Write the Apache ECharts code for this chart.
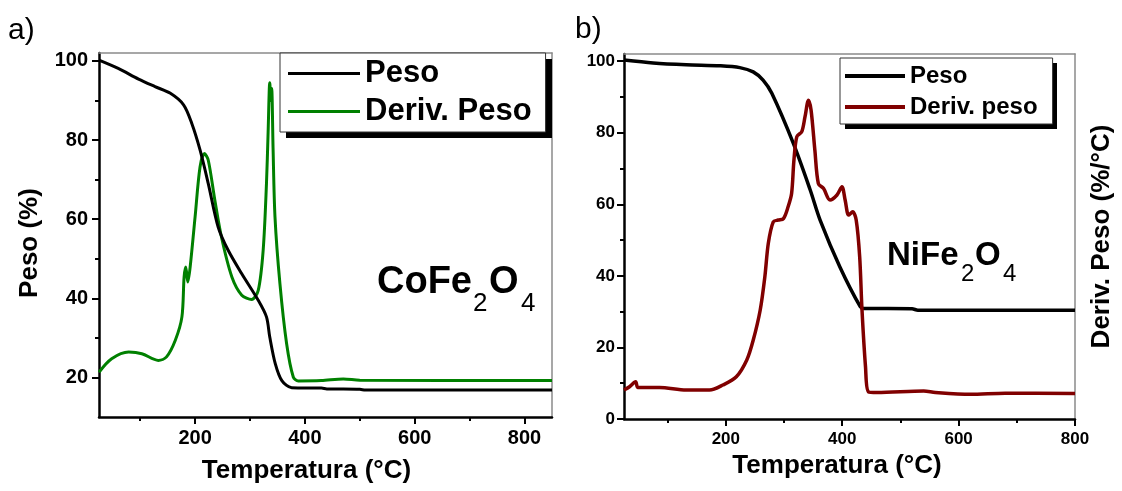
<!DOCTYPE html>
<html>
<head>
<meta charset="utf-8">
<script src="https://cdn.jsdelivr.net/npm/echarts@6/dist/echarts.min.js"></script>
<style>
html, body { margin: 0; padding: 0; background: #fff; }
#main { width: 1122px; height: 491px; }
</style>
</head>
<body>
<div id="main"></div>
<script>
// a) CoFe2O4
var tempPesoA  = [25, 60, 97, 127, 155, 179, 194, 209, 224, 242, 260, 285, 315, 330, 336, 346, 358, 376, 430, 440, 500, 510, 850];
var pesoA      = [100.2, 98.1, 95.4, 93.5, 91.8, 88.9, 84.2, 77.5, 69, 58, 52.2, 46.2, 39.5, 35.3, 30.2, 23.5, 19.2, 17.4, 17.3, 17.1, 17.0, 16.8, 16.8];
var tempDerivA = [25, 48, 79, 103, 133, 148, 164, 176, 180, 183, 186.7, 191, 200, 209, 217, 224, 236, 248, 267, 285, 303, 315, 324, 330, 333, 336, 338, 339.5, 342, 345.5, 354.5, 366.7, 378.8, 388, 430, 470, 500, 850];
var derivA     = [21.3, 24.7, 26.4, 26.0, 24.3, 25.2, 29.4, 35.3, 45.4, 47.9, 44.1, 47.9, 60.6, 73.2, 76.6, 74.9, 64.8, 55.5, 45.4, 40.8, 39.7, 42, 52.2, 69, 82, 94.5, 90, 93, 78, 60.6, 43.7, 28.5, 20.1, 19.1, 19.2, 19.6, 19.3, 19.2];

// b) NiFe2O4
var tempPesoB  = [25, 75, 132, 190, 224, 247, 264, 279, 316, 345, 362, 396, 431, 437, 520, 530, 800];
var pesoB      = [100.3, 99.5, 99.0, 98.7, 98.2, 97, 94.7, 91, 77, 64, 55.6, 42.5, 31.4, 30.9, 30.8, 30.4, 30.4];
var tempDerivB = [25, 34.5, 45, 49, 86, 132, 172, 195, 218, 236, 247, 259, 267, 273, 281.5, 290, 299, 307, 313, 317, 322, 330.5, 336, 342, 346.5, 353, 359, 368, 379, 391, 399.5, 405, 411, 418, 424, 430, 434, 440, 445, 460, 540, 560, 620, 680, 800];
var derivB     = [8.1, 9.0, 10.4, 8.8, 8.8, 8.1, 8.1, 9.5, 11.8, 16.5, 22, 30.4, 39.7, 49.1, 55.1, 55.6, 56, 59.3, 63, 72.3, 78.9, 80.3, 84.4, 89.1, 86.3, 75.1, 65.8, 64.4, 61.2, 62.6, 64.9, 61.2, 57, 57.9, 55.6, 45.3, 30.4, 14.6, 7.6, 7.4, 7.8, 7.4, 6.9, 7.2, 7.1];

// ticks
var majorX  = [200, 400, 600, 800];
var minorX  = [100, 300, 500, 700];
var majorYA = [20, 40, 60, 80, 100];
var minorYA = [30, 50, 70, 90];
var majorYB = [0, 20, 40, 60, 80, 100];
var minorYB = [10, 30, 50, 70, 90];

var FONT = '"Liberation Sans", Arial, sans-serif';
var myChart = echarts.init(document.getElementById('main'));

function pares(xs, ys) {
    return xs.map(function (x, i) { return [x, ys[i]]; });
}

// eje principal con marcas y etiquetas
function ejePrincipal(grid, pos, min, max, ticks, fs, margin, extra) {
    var eje = {
        gridIndex: grid, type: 'value', position: pos, min: min, max: max,
        axisLine: { onZero: false, lineStyle: { color: '#000', width: 2.5 } },
        axisTick: { customValues: ticks, length: 7, lineStyle: { color: '#000', width: 2 } },
        axisLabel: { customValues: ticks, fontSize: fs, fontWeight: 'bold', color: '#000', fontFamily: FONT, margin: margin },
        splitLine: { show: false }
    };
    for (var k in extra) eje[k] = extra[k];
    return eje;
}
// marcas menores
function ejeMenor(grid, pos, min, max, ticks) {
    return {
        gridIndex: grid, type: 'value', position: pos, min: min, max: max,
        axisLine: { show: false, onZero: false },
        axisTick: { customValues: ticks, length: 4, lineStyle: { color: '#000', width: 2 } },
        axisLabel: { show: false },
        splitLine: { show: false }
    };
}
// borde gris arriba / derecha
function ejeBorde(grid, pos, min, max, extra) {
    var eje = {
        gridIndex: grid, type: 'value', position: pos, min: min, max: max,
        axisLine: { onZero: false, lineStyle: { color: '#8a8a8a', width: 1.5 } },
        axisTick: { show: false },
        axisLabel: { show: false },
        splitLine: { show: false }
    };
    for (var k in extra) eje[k] = extra[k];
    return eje;
}

var nombre = { fontSize: 26, fontWeight: 'bold', color: '#000', fontFamily: FONT };

function leyenda(names, left, top, padding, itemWidth, lineH, fs, gap) {
    return {
        data: names, orient: 'vertical', left: left, top: top, z: 10,
        padding: padding, itemGap: 7, itemWidth: itemWidth, itemHeight: lineH, itemTextGap: gap,
        icon: 'rect', backgroundColor: '#fff', borderColor: '#333', borderWidth: 1,
        selectedMode: false,
        textStyle: { fontSize: fs, fontWeight: 'bold', color: '#000', fontFamily: FONT }
    };
}

option = {
    animation: false,
    backgroundColor: '#fff',
    grid: [
        { left: 99, top: 53, width: 453, height: 364 },
        { left: 624, top: 54, width: 451, height: 365 }
    ],
    xAxis: [
        ejePrincipal(0, 'bottom', 25, 850, majorX, 20, 11, {
            name: 'Temperatura (°C)', nameLocation: 'middle', nameGap: 41,
            nameTextStyle: Object.assign({ padding: [0, 38, 0, 0] }, nombre)
        }),
        ejeMenor(0, 'bottom', 25, 850, minorX),
        ejeBorde(0, 'top', 25, 850),
        ejePrincipal(1, 'bottom', 25, 800, majorX, 17, 12, {
            name: 'Temperatura (°C)', nameLocation: 'middle', nameGap: 34,
            nameTextStyle: Object.assign({ padding: [0, 25, 0, 0] }, nombre)
        }),
        ejeMenor(1, 'bottom', 25, 800, minorX),
        ejeBorde(1, 'top', 25, 800)
    ],
    yAxis: [
        ejePrincipal(0, 'left', 10, 102, majorYA, 20, 11, {
            name: 'Peso (%)', nameLocation: 'middle', nameRotate: 90, nameGap: 56,
            nameTextStyle: Object.assign({ padding: [0, 16, 0, 0] }, nombre)
        }),
        ejeMenor(0, 'left', 10, 102, minorYA),
        ejeBorde(0, 'right', 10, 102),
        ejePrincipal(1, 'left', 0, 102, majorYB, 17, 9, {}),
        ejeMenor(1, 'left', 0, 102, minorYB),
        ejeBorde(1, 'right', 0, 102, {
            name: 'Deriv. Peso (%/°C)', nameLocation: 'middle', nameRotate: 90, nameGap: 14,
            nameTextStyle: nombre
        })
    ],
    legend: [
        leyenda(['Peso', 'Deriv. Peso'], 280, 53, [5, 14, 5, 8], 72, 3, 31, 8),
        leyenda(['Peso', 'Deriv. peso'], 840, 58, [6, 15, 5, 5], 60, 4, 24, 7)
    ],
    graphic: [
        // sombras de las leyendas
        { type: 'rect', z: 1, shape: { x: 286, y: 59, width: 266, height: 79 }, style: { fill: '#000' } },
        { type: 'rect', z: 1, shape: { x: 845, y: 63, width: 212, height: 66 }, style: { fill: '#000' } },
        { type: 'text', x: 8, y: 31, style: { text: 'a)', font: '30px ' + FONT, fill: '#000', textVerticalAlign: 'middle' } },
        { type: 'text', x: 575, y: 30, style: { text: 'b)', font: '30px ' + FONT, fill: '#000', textVerticalAlign: 'middle' } },
        { type: 'text', x: 377, y: 283, style: { text: 'CoFe', font: 'bold 38px ' + FONT, fill: '#000', textVerticalAlign: 'middle' } },
        { type: 'text', x: 473, y: 304, style: { text: '2', font: '26px ' + FONT, fill: '#000', textVerticalAlign: 'middle' } },
        { type: 'text', x: 489, y: 283, style: { text: 'O', font: 'bold 38px ' + FONT, fill: '#000', textVerticalAlign: 'middle' } },
        { type: 'text', x: 521, y: 304, style: { text: '4', font: '26px ' + FONT, fill: '#000', textVerticalAlign: 'middle' } },
        { type: 'text', x: 887, y: 256, style: { text: 'NiFe', font: 'bold 33px ' + FONT, fill: '#000', textVerticalAlign: 'middle' } },
        { type: 'text', x: 961, y: 274, style: { text: '2', font: '24px ' + FONT, fill: '#000', textVerticalAlign: 'middle' } },
        { type: 'text', x: 975, y: 256, style: { text: 'O', font: 'bold 33px ' + FONT, fill: '#000', textVerticalAlign: 'middle' } },
        { type: 'text', x: 1003, y: 274, style: { text: '4', font: '24px ' + FONT, fill: '#000', textVerticalAlign: 'middle' } }
    ],
    series: [
        {
            name: 'Deriv. Peso', type: 'line', xAxisIndex: 0, yAxisIndex: 2,
            data: pares(tempDerivA, derivA), symbol: 'none', smooth: 0.3, z: 2,
            lineStyle: { color: '#008000', width: 3 }, itemStyle: { color: '#008000' }
        },
        {
            name: 'Peso', type: 'line', xAxisIndex: 0, yAxisIndex: 0,
            data: pares(tempPesoA, pesoA), symbol: 'none', smooth: 0.3, z: 3,
            lineStyle: { color: '#000', width: 3 }, itemStyle: { color: '#000' }
        },
        {
            name: 'Peso', type: 'line', xAxisIndex: 3, yAxisIndex: 3,
            data: pares(tempPesoB, pesoB), symbol: 'none', smooth: 0.3, z: 2,
            lineStyle: { color: '#000', width: 3.5 }, itemStyle: { color: '#000' }
        },
        {
            name: 'Deriv. peso', type: 'line', xAxisIndex: 3, yAxisIndex: 5,
            data: pares(tempDerivB, derivB), symbol: 'none', smooth: 0.3, z: 3,
            lineStyle: { color: '#800000', width: 3.5 }, itemStyle: { color: '#800000' }
        }
    ]
};
myChart.setOption(option);
</script>
</body>
</html>
